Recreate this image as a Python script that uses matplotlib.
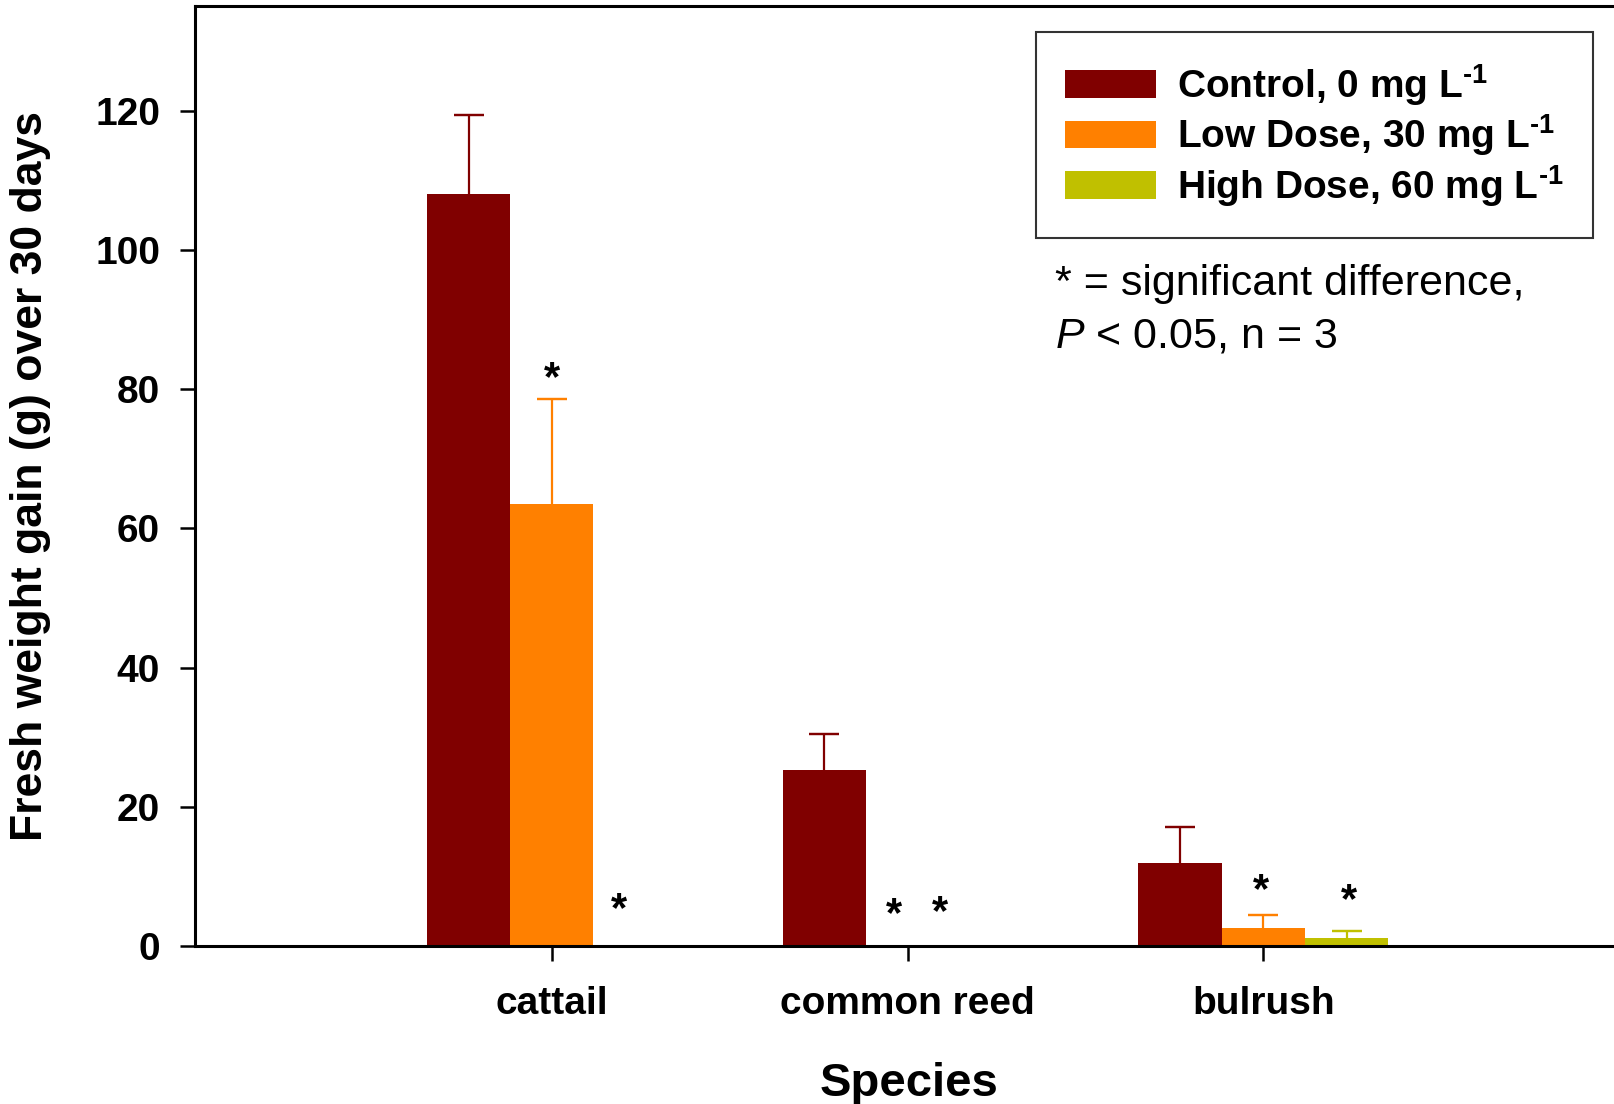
import numpy as np
import matplotlib
matplotlib.use("Agg")
import matplotlib.pyplot as plt

plt.rcParams['font.family'] = ['Liberation Sans', 'DejaVu Sans']
plt.rcParams['mathtext.fontset'] = 'custom'
plt.rcParams['mathtext.rm'] = 'Liberation Sans:bold'
plt.rcParams['mathtext.it'] = 'Liberation Sans:italic'
plt.rcParams['mathtext.bf'] = 'Liberation Sans:bold'

# fresh weight gain (g), mean and upper SE per species
species = ['cattail', 'common reed', 'bulrush']
treatments = [r'Control, 0 mg L$^{\text{-1}}$',
              r'Low Dose, 30 mg L$^{\text{-1}}$',
              r'High Dose, 60 mg L$^{\text{-1}}$']
control_mean = [108.0, 25.3, 11.9]
control_err = [11.4, 5.2, 5.2]
low_mean = [63.5, 0.0, 2.6]
low_err = [15.1, 0.0, 1.85]
high_mean = [0.0, 0.0, 1.2]
high_err = [0.0, 0.0, 1.0]
colors = ['#800000', '#ff8000', '#c0c000']

# significance stars: (species index, offset in bar groups, height)
star_species = [0, 0, 1, 1, 2, 2]
star_offset = [0.0, 0.19, -0.037, 0.09, -0.006, 0.24]
star_height = [79.8, 3.6, 2.9, 3.2, 6.3, 4.9]

means = [control_mean, low_mean, high_mean]
errs = [control_err, low_err, high_err]

fig = plt.figure(figsize=(16.14, 11.04), dpi=100)
ax = fig.add_axes([0.1208, 0.1431, 0.8823, 0.8514])

x = np.arange(len(species))
width = 0.234
for i in range(3):
    pos = x + (i - 1) * width
    ax.bar(pos, means[i], width, color=colors[i], linewidth=0, label=treatments[i])
    m = np.array(means[i])
    e = np.array(errs[i])
    keep = e > 0
    # upper half only: stem from the bar top, cap at mean + err
    ax.vlines(pos[keep], m[keep], m[keep] + e[keep], color=colors[i], linewidth=1.6)
    ax.errorbar(pos[keep], m[keep] + e[keep], yerr=0, fmt='none',
                ecolor=colors[i], elinewidth=0, capsize=10.5, capthick=1.6)

for s, off, h in zip(star_species, star_offset, star_height):
    ax.text(x[s] + off, h, '*', fontsize=30, fontweight='bold',
            ha='center', va='baseline')

ax.set_xlim(-1.003, 3.0)
ax.set_ylim(0, 135)
ax.set_yticks([0, 20, 40, 60, 80, 100, 120])
ax.set_xticks(x)
ax.set_xticklabels(species)
for lab in ax.get_xticklabels() + ax.get_yticklabels():
    lab.set_fontweight('bold')
ax.tick_params(axis='y', labelsize=28, length=11, width=1.8, pad=14, direction='out')
ax.tick_params(axis='x', labelsize=28, length=11, width=1.8, pad=18, direction='out')
for sp in ax.spines.values():
    sp.set_linewidth(2.2)

fig.text(31 / 1614, 1 - 476 / 1104, 'Fresh weight gain (g) over 30 days',
         rotation=90, ha='center', va='center', fontsize=32, fontweight='bold')
fig.text(909 / 1614, 0.0072, 'Species', ha='center', va='baseline',
         fontsize=34, fontweight='bold')

leg = ax.legend(loc='upper right', bbox_to_anchor=(0.982, 0.972),
                prop={'weight': 'bold', 'size': 28}, frameon=True,
                fancybox=False, edgecolor='black', handlelength=2.34,
                handleheight=0.72, handletextpad=0.54, labelspacing=0.12,
                borderpad=0.76, borderaxespad=0)
leg.get_frame().set_linewidth(1.5)

ax.text(0.604, 0.6926, '* = significant difference,', transform=ax.transAxes,
        fontsize=31, va='baseline', ha='left')
ax.text(0.604, 0.637, r'$\mathit{P}$ < 0.05, n = 3', transform=ax.transAxes,
        fontsize=31, va='baseline', ha='left')

fig.savefig('out.png', dpi=100)
